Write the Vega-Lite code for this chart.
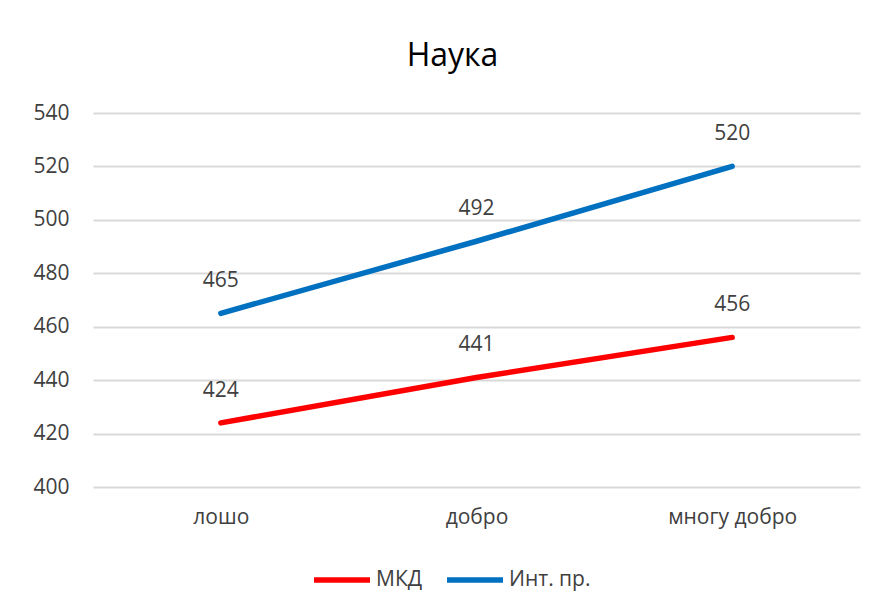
{
  "$schema": "https://vega.github.io/schema/vega-lite/v6.json",
  "autosize": "none",
  "width": 767,
  "height": 374,
  "padding": {"left": 93, "top": 113, "right": 20, "bottom": 126},
  "background": "white",
  "title": {
    "text": "Наука",
    "font": "Open Sans",
    "fontSize": 32,
    "fontWeight": "normal",
    "color": "#000000",
    "anchor": "middle",
    "dx": -24,
    "offset": 29
  },
  "data": {
    "values": [
      {"cat": "лошо", "series": "МКД", "value": 424},
      {"cat": "добро", "series": "МКД", "value": 441},
      {"cat": "многу добро", "series": "МКД", "value": 456},
      {"cat": "лошо", "series": "Инт. пр.", "value": 465},
      {"cat": "добро", "series": "Инт. пр.", "value": 492},
      {"cat": "многу добро", "series": "Инт. пр.", "value": 520}
    ]
  },
  "encoding": {
    "x": {
      "field": "cat",
      "type": "nominal",
      "sort": ["лошо", "добро", "многу добро"],
      "scale": {"type": "point", "padding": 0.5},
      "axis": {
        "title": null,
        "labelAngle": 0,
        "labelFont": "Open Sans",
        "labelFontSize": 21,
        "labelColor": "#404040",
        "labelPadding": 19,
        "domain": false,
        "ticks": false,
        "grid": false
      }
    },
    "y": {
      "field": "value",
      "type": "quantitative",
      "scale": {"domain": [400, 540], "nice": false, "zero": false},
      "axis": {
        "title": null,
        "values": [400, 420, 440, 460, 480, 500, 520, 540],
        "labelFont": "Open Sans",
        "labelFontSize": 21,
        "labelColor": "#404040",
        "labelPadding": 24,
        "domain": false,
        "ticks": false,
        "grid": true,
        "gridColor": "#d9d9d9",
        "gridWidth": 1.8
      }
    },
    "color": {
      "field": "series",
      "type": "nominal",
      "sort": ["МКД", "Инт. пр."],
      "scale": {"domain": ["МКД", "Инт. пр."], "range": ["#ff0000", "#0070c0"]},
      "legend": {
        "title": null,
        "orient": "none",
        "legendX": 218,
        "legendY": 436,
        "direction": "horizontal",
        "symbolType": "stroke",
        "symbolSize": 3136,
        "symbolStrokeWidth": 5.5,
        "labelFont": "Open Sans",
        "labelFontSize": 21,
        "labelColor": "#404040",
        "columnPadding": 13,
        "labelOffset": 3
      }
    }
  },
  "layer": [
    {
      "mark": {"type": "line", "strokeWidth": 5.5, "strokeCap": "round"}
    },
    {
      "mark": {"type": "text", "dy": -26, "baseline": "alphabetic", "font": "Open Sans", "fontSize": 21, "color": "#404040"},
      "encoding": {
        "text": {"field": "value", "type": "quantitative"},
        "color": {"value": "#404040"}
      }
    }
  ],
  "config": {"view": {"stroke": null}}
}
